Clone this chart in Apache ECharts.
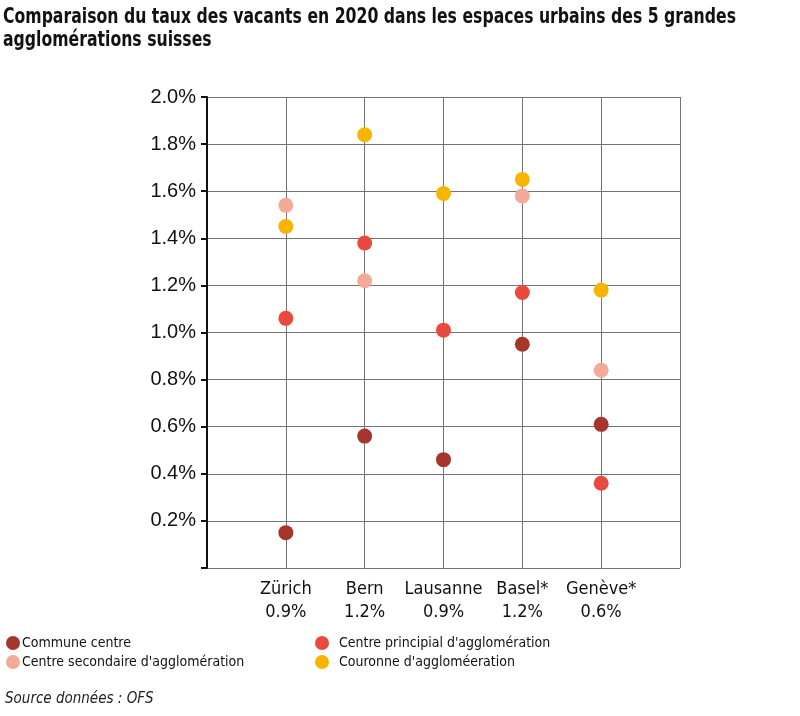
<!DOCTYPE html>
<html>
<head>
<meta charset="utf-8">
<script src="https://cdn.jsdelivr.net/npm/echarts@6/dist/echarts.min.js"></script>
<style>
html,body{margin:0;padding:0;background:#fff;}
#c{width:800px;height:716px;}
</style>
</head>
<body>
<div id="c"></div>
<script>
const categories = ['Zürich', 'Bern', 'Lausanne', 'Basel*', 'Genève*'];
const totals = ['0.9%', '1.2%', '0.9%', '1.2%', '0.6%'];
const communeCentre = [0.15, 0.56, 0.46, 0.95, 0.61];
const centrePrincipal = [1.06, 1.38, 1.01, 1.17, 0.36];
const centreSecondaire = [1.54, 1.22, null, 1.58, 0.84];
const couronne = [1.45, 1.84, 1.59, 1.65, 1.18];
const seriesNames = ['Commune centre', 'Centre principial d\'agglomération', 'Centre secondaire d\'agglomération', 'Couronne d\'aggloméeration'];
const colors = ['#a8352b', '#e9493f', '#f3aa98', '#f7b500'];
const titleLines = ['Comparaison du taux des vacants en 2020 dans les espaces urbains des 5 grandes', 'agglomérations suisses'];

const narrow = '"DejaVu Sans Condensed", "DejaVu Sans", sans-serif';
const titleFont = 'bold 21px "DejaVu Sans Condensed", "DejaVu Sans", sans-serif';
const mctx = document.createElement('canvas').getContext('2d');
mctx.font = titleFont;
const titleScale = 733 / mctx.measureText(titleLines[0]).width;

const chart = echarts.init(document.getElementById('c'));
function toPoints(arr){
  const out = [];
  arr.forEach((v,i)=>{ if(v!==null) out.push([i+1, v]); });
  return out;
}
const dataSets = [communeCentre, centrePrincipal, centreSecondaire, couronne];
chart.setOption({
  animation:false,
  graphic: titleLines.map((t,i)=>({
    type:'text', x:3, y:18 + i*23, scaleX:titleScale, originX:0,
    style:{text:t, font:titleFont, fill:'#111', textVerticalAlign:'middle', verticalAlign:'middle'}
  })),
  title:[{
    text:'Source données : OFS',
    left:0, top:687,
    textStyle:{fontFamily:narrow, fontStyle:'italic', fontWeight:'normal', fontSize:15, color:'#222'}
  }],
  legend:[{
    orient:'vertical', left:1, top:631, itemGap:5,
    icon:'circle', itemWidth:14, itemHeight:14,
    data:[seriesNames[0], seriesNames[2]],
    textStyle:{fontFamily:narrow, fontSize:14, color:'#111', padding:[0,0,0,-3]}
  },{
    orient:'vertical', left:310, top:631, itemGap:5,
    icon:'circle', itemWidth:14, itemHeight:14,
    data:[seriesNames[1], seriesNames[3]],
    textStyle:{fontFamily:narrow, fontSize:14, color:'#111', padding:[0,0,0,5]}
  }],
  grid:{left:207, right:120, top:97, bottom:148},
  xAxis:{
    type:'value', min:0, max:6, interval:1,
    axisLine:{show:false}, axisTick:{show:false},
    splitLine:{show:true, lineStyle:{color:'#747474', width:1}},
    axisLabel:{
      margin:10,
      formatter:function(v){
        const i = Math.round(v)-1;
        if(i<0 || i>=categories.length) return '';
        return categories[i] + '\n' + totals[i];
      },
      fontFamily:narrow, fontSize:18, lineHeight:23, color:'#111'
    }
  },
  yAxis:{
    type:'value', min:0, max:2, interval:0.2,
    axisLine:{show:true, lineStyle:{color:'#111', width:2}},
    axisTick:{show:true, inside:false, length:6, lineStyle:{color:'#111', width:2}},
    splitLine:{show:true, lineStyle:{color:'#747474', width:1}},
    axisLabel:{
      margin:11,
      formatter:function(v){ return v===0 ? '' : v.toFixed(1)+'%'; },
      fontFamily:'"Liberation Sans", Arial, sans-serif', fontSize:20, color:'#111'
    }
  },
  series: dataSets.map((arr,k)=>({
    name:seriesNames[k], type:'scatter', symbolSize:15,
    itemStyle:{color:colors[k], opacity:1},
    data:toPoints(arr)
  }))
});
</script>
</body>
</html>
